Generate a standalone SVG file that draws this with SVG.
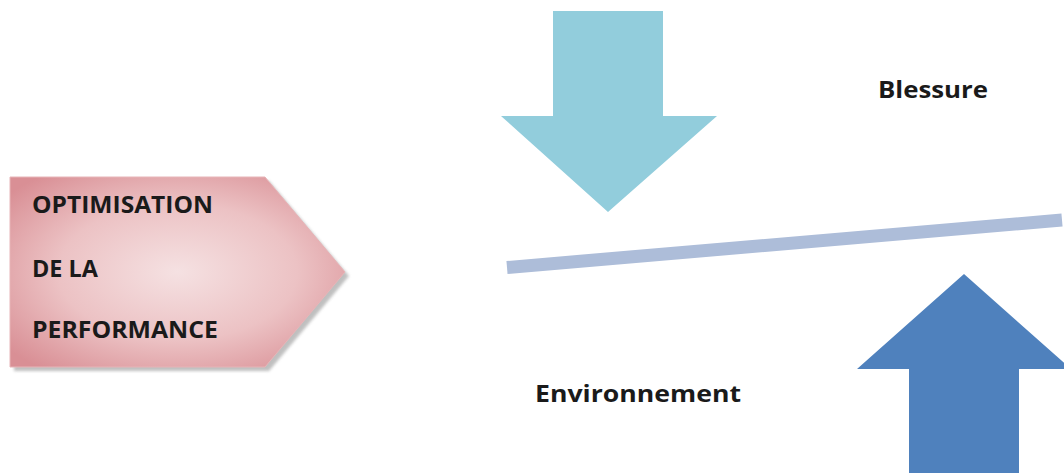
<svg xmlns="http://www.w3.org/2000/svg" width="1064" height="473" viewBox="0 0 1064 473">
  <defs>
    <radialGradient id="pinkGrad" cx="0.5" cy="0.5" r="0.65">
      <stop offset="0" stop-color="#f5e1e2"/>
      <stop offset="0.55" stop-color="#ecc2c4"/>
      <stop offset="1" stop-color="#d98f95"/>
    </radialGradient>
    <filter id="blur" x="-10%" y="-10%" width="120%" height="120%">
      <feGaussianBlur stdDeviation="1.5"/>
    </filter>
  </defs>
  <style>
    .lbl { font-family: "Open Sans", "Liberation Sans", sans-serif; font-weight: bold; fill: #1a1a1a; }
  </style>
  <rect width="1064" height="473" fill="#ffffff"/>

  <g id="performance">
    <polygon points="14,181 269,181 349,276 269,371 14,371" fill="#8c8c8c" opacity="0.55" filter="url(#blur)"/>
    <polygon points="10,177 265,177 345,272 265,367 10,367" fill="url(#pinkGrad)" stroke="#e7b5b8" stroke-width="1"/>
    <text class="lbl" x="32" y="213" font-size="23" textLength="181" lengthAdjust="spacingAndGlyphs">OPTIMISATION</text>
    <text class="lbl" x="32" y="277" font-size="23" textLength="66" lengthAdjust="spacingAndGlyphs">DE LA</text>
    <text class="lbl" x="32" y="338" font-size="23" textLength="186" lengthAdjust="spacingAndGlyphs">PERFORMANCE</text>
  </g>

  <g id="down-arrow">
    <polygon points="553,11 663,11 663,116 717,116 608,212 501,116 553,116" fill="#92cddc"/>
  </g>

  <g id="up-arrow">
    <polygon points="964,274 1071,369 1019,369 1019,473 909,473 909,369 857,369" fill="#4f81bd"/>
  </g>

  <g id="connectors">
    <line x1="507" y1="267.5" x2="1062" y2="220" stroke="#adbdd9" stroke-width="13"/>
  </g>

  <g id="blessure">
    <text class="lbl" x="878" y="98" font-size="24" textLength="110" lengthAdjust="spacingAndGlyphs">Blessure</text>
  </g>
  <g id="environnement">
    <text class="lbl" x="535" y="402" font-size="24" textLength="206" lengthAdjust="spacingAndGlyphs">Environnement</text>
  </g>
</svg>
